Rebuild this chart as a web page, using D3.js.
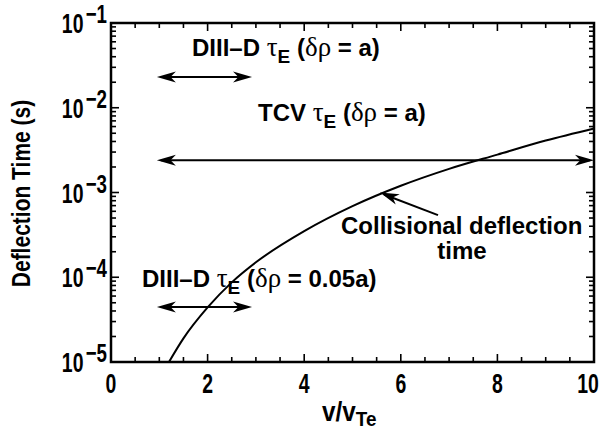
<!DOCTYPE html>
<html>
<head>
<meta charset="utf-8">
<script src="https://cdn.jsdelivr.net/npm/d3@7"></script>
<style>
  body { margin: 0; background: #fff; }
  svg { display: block; }
  text { font-family: "Liberation Sans", Arial, sans-serif; font-weight: bold; fill: #000; }
  .sym { font-family: "Liberation Serif", "DejaVu Serif", serif; font-weight: normal; }
</style>
</head>
<body>
<div id="chart"></div>
<script>
// collisional deflection time vs v/vTe
const vValues = [1.2, 1.5, 2, 2.5, 3, 4, 5, 6, 7, 8, 9, 10];
const deflectionTime = [1.0e-5, 1.9e-5, 4.4e-5, 8.7e-5, 1.5e-4, 3.5e-4, 6.9e-4, 1.2e-3, 1.9e-3, 2.8e-3, 4.1e-3, 5.7e-3];

// confinement time ranges: [v start, v end, time]
const diiidFull = [0.95, 2.92, 2.3e-2];
const tcvFull = [0.95, 10, 2.4e-3];
const diiidEdge = [0.95, 2.92, 4.45e-5];

// pointer to the curve: [v tail, t tail, v tip, t tip]
const collisionPointer = [6.77, 5.4e-4, 5.57, 1.0e-3];

const xTicks = [0, 2, 4, 6, 8, 10];
const yExponents = [-5, -4, -3, -2, -1];

const width = 603, height = 441;
const margin = { top: 23, right: 9, bottom: 79, left: 111 };

const svg = d3.select('#chart').append('svg')
    .attr('width', width)
    .attr('height', height);

const x = d3.scaleLinear().domain([0, 10]).range([margin.left, width - margin.right]);
const y = d3.scaleLog().domain([1e-5, 1e-1]).range([height - margin.bottom, margin.top]);

const x0 = x.range()[0], x1 = x.range()[1];
const y0 = y.range()[0], y1 = y.range()[1];

// condensed text: place at (px,py), squeeze horizontally
function narrowText(parent, px, py, sx, size, anchor) {
    return parent.append('text')
        .attr('transform', `translate(${px},${py}) scale(${sx},1)`)
        .attr('text-anchor', anchor || 'start')
        .attr('font-size', size);
}

// minor ticks
const xMinor = d3.range(0, 10.01, 0.5).filter(d => !xTicks.includes(d));
const yMinor = [];
yExponents.slice(0, 4).forEach(e => {
    for (let k = 2; k <= 9; k++) yMinor.push(k * Math.pow(10, e));
});

const ticks = svg.append('g').attr('stroke', '#000').attr('stroke-width', 1.6);
[[xTicks, 8], [xMinor, 5]].forEach(([vals, len]) => {
    vals.forEach(d => {
        ticks.append('line').attr('x1', x(d)).attr('x2', x(d)).attr('y1', y0).attr('y2', y0 - len);
        ticks.append('line').attr('x1', x(d)).attr('x2', x(d)).attr('y1', y1).attr('y2', y1 + len);
    });
});
[[yExponents.map(e => Math.pow(10, e)), 8], [yMinor, 5]].forEach(([vals, len]) => {
    vals.forEach(d => {
        ticks.append('line').attr('x1', x0).attr('x2', x0 + len).attr('y1', y(d)).attr('y2', y(d));
        ticks.append('line').attr('x1', x1).attr('x2', x1 - len).attr('y1', y(d)).attr('y2', y(d));
    });
});

// frame
svg.append('rect')
    .attr('x', x0).attr('y', y1)
    .attr('width', x1 - x0).attr('height', y0 - y1)
    .attr('fill', 'none').attr('stroke', '#000').attr('stroke-width', 2.5);

// x tick labels
const xLabels = svg.append('g');
xTicks.forEach(d => {
    narrowText(xLabels, d === 10 ? x(d) - 6 : x(d), 393, 0.72, 27, 'middle').text(d);
});

// y tick labels
const yLabels = svg.append('g');
yExponents.forEach(e => {
    const t = narrowText(yLabels, 107, y(Math.pow(10, e)) + 10, 0.72, 27, 'end');
    t.append('tspan').text('10');
    t.append('tspan').attr('dx', 3).attr('dy', -10).attr('font-size', 26).text('\u2212' + Math.abs(e));
});

// axis titles
svg.append('text')
    .attr('transform', `translate(30,${(y0 + y1) / 2 + 1}) rotate(-90) scale(0.84,1)`)
    .attr('text-anchor', 'middle')
    .attr('font-size', 25)
    .text('Deflection Time (s)');

const xt = narrowText(svg, 322, 421, 0.9, 27, 'start');
xt.append('tspan').text('v/v');
xt.append('tspan').attr('dy', 5).attr('font-size', 21).text('Te');

// curve
svg.append('path')
    .datum(vValues.map((v, i) => [v, deflectionTime[i]]))
    .attr('fill', 'none')
    .attr('stroke', '#000')
    .attr('stroke-width', 2)
    .attr('d', d3.line().x(d => x(d[0])).y(d => y(d[1])).curve(d3.curveMonotoneX));

// arrows
function arrowHead(g, px, py, angle) {
    const L = 19, w = 5.5;
    g.append('path')
        .attr('d', `M0,0 L${-L},${-w} L${-L * 0.72},0 L${-L},${w} Z`)
        .attr('transform', `translate(${px},${py}) rotate(${angle})`)
        .attr('fill', '#000');
}
function rangeArrow(r) {
    const g = svg.append('g');
    const ya = y(r[2]);
    g.append('line')
        .attr('x1', x(r[0]) + 4).attr('x2', x(r[1]) - 4)
        .attr('y1', ya).attr('y2', ya)
        .attr('stroke', '#000').attr('stroke-width', 2);
    arrowHead(g, x(r[1]), ya, 0);
    arrowHead(g, x(r[0]), ya, 180);
}
rangeArrow(diiidFull);
rangeArrow(tcvFull);
rangeArrow(diiidEdge);

const pg = svg.append('g');
const tx = x(collisionPointer[0]), ty = y(collisionPointer[1]);
const hx = x(collisionPointer[2]), hy = y(collisionPointer[3]);
pg.append('line')
    .attr('x1', tx).attr('y1', ty).attr('x2', hx + 4).attr('y2', hy + 2)
    .attr('stroke', '#000').attr('stroke-width', 2);
arrowHead(pg, hx, hy, Math.atan2(hy - ty, hx - tx) * 180 / Math.PI);

// annotations
function addLabel(px, py, head, rho) {
    const t = svg.append('text').attr('x', px).attr('y', py).attr('font-size', 24);
    t.append('tspan').text(head + ' ');
    t.append('tspan').attr('class', 'sym').attr('font-size', 27).text('\u03c4');
    t.append('tspan').attr('dy', 7).attr('font-size', 19).text('E');
    t.append('tspan').attr('dy', -7).text(' (');
    t.append('tspan').attr('class', 'sym').attr('font-size', 27).text('\u03b4\u03c1');
    t.append('tspan').text(' = ' + rho + ')');
}
addLabel(192, 56, 'DIII\u2013D', 'a');
addLabel(258, 121, 'TCV', 'a');
addLabel(142, 287, 'DIII\u2013D', '0.05a');

svg.append('text').attr('x', 341).attr('y', 234).attr('font-size', 24).text('Collisional deflection');
svg.append('text').attr('x', 462).attr('y', 259).attr('text-anchor', 'middle').attr('font-size', 24).text('time');
</script>
</body>
</html>
